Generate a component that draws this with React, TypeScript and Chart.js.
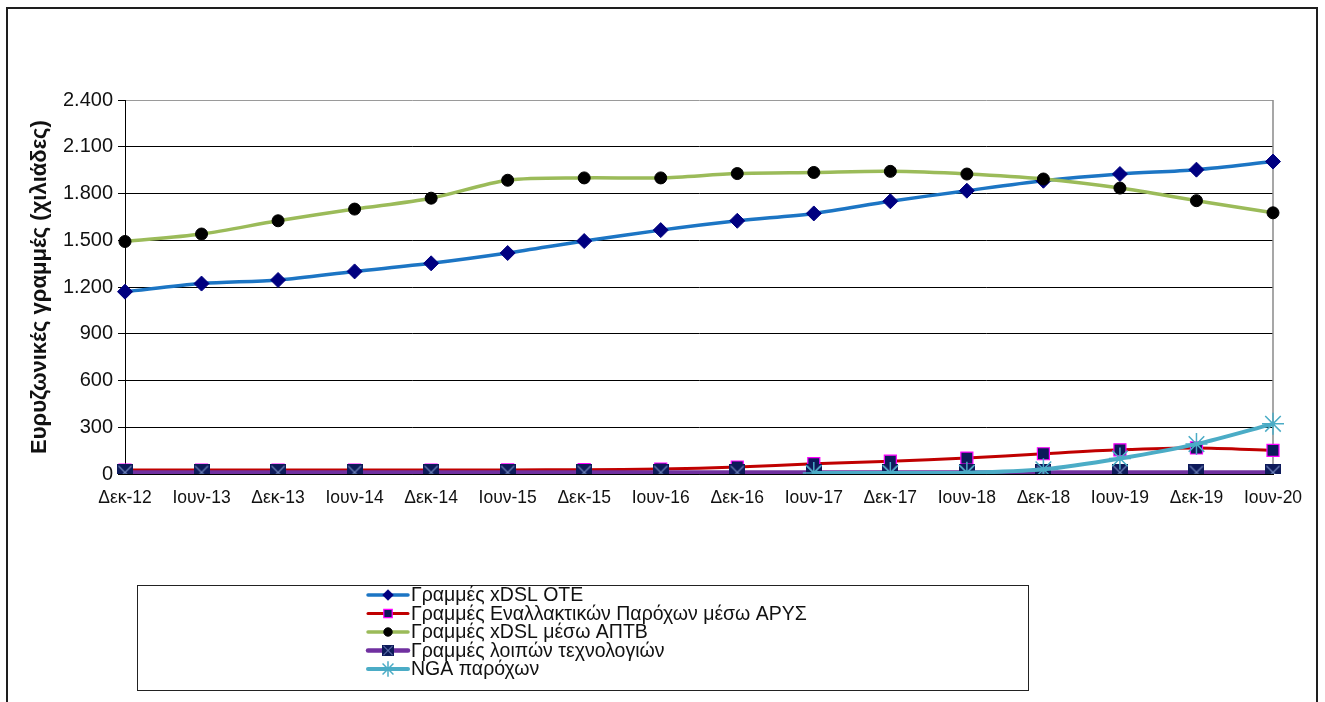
import React, { useEffect, useRef } from 'react';
import { Chart, registerables } from 'chart.js';

Chart.register(...registerables);

const categories = ['Δεκ-12', 'Ιουν-13', 'Δεκ-13', 'Ιουν-14', 'Δεκ-14', 'Ιουν-15', 'Δεκ-15', 'Ιουν-16', 'Δεκ-16', 'Ιουν-17', 'Δεκ-17', 'Ιουν-18', 'Δεκ-18', 'Ιουν-19', 'Δεκ-19', 'Ιουν-20'];
const xdslOte = [1170, 1222, 1245, 1300, 1352, 1418, 1495, 1565, 1625, 1672, 1750, 1818, 1882, 1925, 1953, 2005];
const altProviders = [25, 25, 25, 25, 25, 26, 28, 32, 45, 66, 82, 102, 130, 155, 167, 152];
const xdslLlu = [1492, 1540, 1625, 1700, 1770, 1885, 1900, 1900, 1928, 1935, 1942, 1925, 1893, 1835, 1754, 1676];
const otherTech = [10, 10, 10, 10, 10, 10, 10, 10, 10, 10, 10, 10, 10, 10, 10, 10];
const ngaLines = [null, null, null, null, null, null, null, null, null, 6, 6, 8, 30, 100, 192, 322];
const seriesNames = ['Γραμμές xDSL ΟΤΕ', 'Γραμμές Εναλλακτικών Παρόχων μέσω ΑΡΥΣ', 'Γραμμές xDSL μέσω ΑΠΤΒ', 'Γραμμές λοιπών τεχνολογιών', 'NGA παρόχων'];
const yTicks = [0, 300, 600, 900, 1200, 1500, 1800, 2100, 2400];
const yTitle = 'Ευρυζωνικές γραμμές (χιλιάδες)';

const FONT = '"Liberation Sans", Arial, sans-serif';

function fmt(v: number): string {
  if (v >= 1000) return Math.floor(v / 1000) + '.' + String(v % 1000).padStart(3, '0');
  return String(v);
}

function makeCrossSquare(size: number): HTMLCanvasElement {
  const c = document.createElement('canvas');
  c.width = size;
  c.height = size;
  const g = c.getContext('2d')!;
  g.fillStyle = '#0d1a5a';
  g.fillRect(0, 0, size, size);
  g.strokeStyle = '#6c80b8';
  g.lineWidth = 1.2;
  g.beginPath();
  g.moveTo(1.5, 1.5);
  g.lineTo(size - 1.5, size - 1.5);
  g.moveTo(size - 1.5, 1.5);
  g.lineTo(1.5, size - 1.5);
  g.stroke();
  return c;
}

function drawMarker(ctx: CanvasRenderingContext2D, ds: any, x: number, y: number, scale: number) {
  const style = ds.pointStyle;
  const r = ds.pointRadius * scale;
  ctx.save();
  ctx.fillStyle = ds.pointBackgroundColor;
  ctx.strokeStyle = ds.pointBorderColor;
  ctx.lineWidth = ds.pointBorderWidth;
  if (style instanceof HTMLCanvasElement) {
    const w = style.width * scale;
    ctx.drawImage(style, x - w / 2, y - w / 2, w, w);
  } else if (style === 'rectRot') {
    ctx.beginPath();
    ctx.moveTo(x, y - r);
    ctx.lineTo(x + r, y);
    ctx.lineTo(x, y + r);
    ctx.lineTo(x - r, y);
    ctx.closePath();
    ctx.fill();
    ctx.stroke();
  } else if (style === 'rect') {
    const s = Math.SQRT1_2 * r;
    ctx.beginPath();
    ctx.rect(x - s, y - s, 2 * s, 2 * s);
    ctx.fill();
    ctx.stroke();
  } else if (style === 'circle') {
    ctx.beginPath();
    ctx.arc(x, y, r, 0, Math.PI * 2);
    ctx.fill();
    ctx.stroke();
  } else if (style === 'star') {
    ctx.beginPath();
    ctx.moveTo(x, y - r);
    ctx.lineTo(x, y + r);
    ctx.moveTo(x - r, y);
    ctx.lineTo(x + r, y);
    const d = r * Math.SQRT1_2;
    ctx.moveTo(x - d, y - d);
    ctx.lineTo(x + d, y + d);
    ctx.moveTo(x + d, y - d);
    ctx.lineTo(x - d, y + d);
    ctx.stroke();
  }
  ctx.restore();
}

const framePlugin = {
  id: 'framePlugin',
  beforeDatasetsDraw(chart: any) {
    const { ctx, chartArea } = chart;
    ctx.save();
    ctx.strokeStyle = '#8a8a8a';
    ctx.lineWidth = 1.5;
    ctx.beginPath();
    ctx.moveTo(chartArea.right, chartArea.top);
    ctx.lineTo(chartArea.right, chartArea.bottom);
    ctx.stroke();
    ctx.restore();
  },
};

const legendPlugin = {
  id: 'boxLegend',
  afterDraw(chart: any) {
    const ctx: CanvasRenderingContext2D = chart.ctx;
    ctx.save();
    ctx.strokeStyle = '#222';
    ctx.lineWidth = 1;
    ctx.strokeRect(137.5, 585.5, 891, 105);
    ctx.font = '19.5px ' + FONT;
    ctx.textBaseline = 'middle';
    ctx.fillStyle = '#111';
    chart.data.datasets.forEach((ds: any, i: number) => {
      const y = 595 + i * 18.5;
      ctx.save();
      ctx.strokeStyle = ds.borderColor;
      ctx.lineWidth = ds.borderWidth;
      ctx.lineCap = 'round';
      ctx.beginPath();
      ctx.moveTo(368, y);
      ctx.lineTo(408, y);
      ctx.stroke();
      ctx.restore();
      drawMarker(ctx, ds, 388, y, 0.7);
      ctx.fillStyle = '#111';
      ctx.fillText(ds.label, 411, y + 1);
    });
    ctx.restore();
  },
};

export default function App() {
  const ref = useRef<HTMLCanvasElement | null>(null);

  useEffect(() => {
    if (!ref.current) return;
    const crossSq = makeCrossSquare(16);
    const mk = (label: string, data: any[], color: string, width: number, style: any, radius: number, bg: string, border: string, bw: number, order: number) => ({
      label,
      data,
      borderColor: color,
      borderWidth: width,
      pointStyle: style,
      pointRadius: radius,
      pointHoverRadius: radius,
      pointBackgroundColor: bg,
      pointBorderColor: border,
      pointBorderWidth: bw,
      tension: 0.3,
      fill: false,
      order,
    });
    const chart = new Chart(ref.current, {
      type: 'line',
      data: {
        labels: categories,
        datasets: [
          mk(seriesNames[0], xdslOte, '#1c75c4', 3.5, 'rectRot', 7.5, '#000080', '#000080', 1, 4),
          mk(seriesNames[1], altProviders, '#c00000', 3, 'rect', 8.5, '#0d1a5a', '#ff00ff', 1.2, 3),
          mk(seriesNames[2], xdslLlu, '#9bbb59', 3.5, 'circle', 6, '#000000', '#000000', 1, 2),
          mk(seriesNames[3], otherTech, '#7030a0', 4.5, crossSq, 8, '#0d1a5a', '#0d1a5a', 1, 1),
          mk(seriesNames[4], ngaLines, '#4bacc6', 4, 'star', 11, '#4bacc6', '#4bacc6', 1.5, 0),
        ] as any,
      },
      options: {
        responsive: false,
        animation: false,
        devicePixelRatio: 1,
        layout: { padding: { left: 25, top: 100, right: 52, bottom: 188 } },
        plugins: {
          legend: { display: false },
          tooltip: { enabled: false },
        },
        scales: {
          x: {
            type: 'category',
            offset: false,
            grid: { display: false, drawTicks: false },
            border: { display: true, color: '#000', width: 1 },
            ticks: {
              color: '#111',
              font: { family: FONT, size: 17.5 },
              padding: 14,
              maxRotation: 0,
              autoSkip: false,
            },
            afterFit(scale: any) {
              scale.height = 40;
            },
          },
          y: {
            min: 0,
            max: 2400,
            afterBuildTicks(scale: any) {
              scale.ticks = yTicks.map((v) => ({ value: v }));
            },
            grid: {
              color: (c: any) => (c.tick && c.tick.value === 2400 ? '#9a9a9a' : '#000'),
              lineWidth: 1,
              tickLength: 7,
              tickColor: '#000',
            },
            border: { display: true, color: '#000', width: 1 },
            ticks: {
              color: '#111',
              font: { family: FONT, size: 20 },
              padding: 5,
              callback: (v: any) => fmt(Number(v)),
            },
            title: {
              display: true,
              text: yTitle,
              color: '#111',
              font: { family: FONT, size: 22, weight: 'bold' },
              padding: { top: 2, bottom: 2 },
            },
            afterFit(scale: any) {
              scale.width = 100;
            },
          },
        },
      } as any,
      plugins: [framePlugin, legendPlugin],
    });
    return () => chart.destroy();
  }, []);

  return (
    <div style={{ position: 'fixed', left: 0, top: 0, width: 1325, height: 702, overflow: 'hidden', background: '#fff' }}>
      <canvas ref={ref} width={1325} height={702} style={{ position: 'absolute', left: 0, top: 0, width: 1325, height: 702 }} />
      <div style={{ position: 'absolute', left: 6, top: 7, width: 2, height: 700, background: '#1e1e1e' }} />
      <div style={{ position: 'absolute', left: 1316, top: 7, width: 2, height: 700, background: '#1e1e1e' }} />
      <div style={{ position: 'absolute', left: 6, top: 7, width: 1312, height: 2, background: '#1e1e1e' }} />
    </div>
  );
}
